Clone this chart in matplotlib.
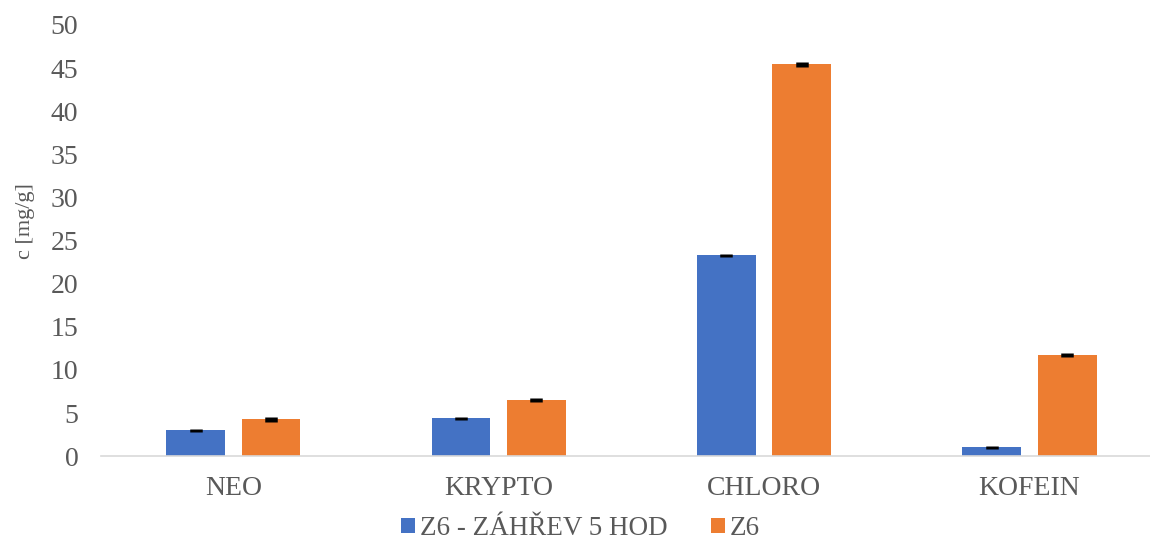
import matplotlib
matplotlib.use("Agg")
import matplotlib.pyplot as plt
import numpy as np

categories = ["NEO", "KRYPTO", "CHLORO", "KOFEIN"]
series_names = ["Z6 - ZÁHŘEV 5 HOD", "Z6"]
heated = [3.0, 4.4, 23.3, 1.05]
plain = [4.25, 6.5, 45.45, 11.75]
heated_err = [0.18, 0.18, 0.15, 0.18]
plain_err = [0.3, 0.25, 0.3, 0.25]
yticks = [0, 5, 10, 15, 20, 25, 30, 35, 40, 45, 50]

blue = "#4472C4"
orange = "#ED7D31"
grey = "#595959"

plt.rcParams["font.family"] = ["Liberation Serif", "DejaVu Serif"]

fig = plt.figure(figsize=(11.5, 5.43), dpi=100)
ax = fig.add_axes([0.0875, 0.160, 0.923, 0.794])

x = np.arange(len(categories))
w = 0.222
off = 0.142
ax.bar(x - off, heated, w, color=blue, label=series_names[0], zorder=2)
ax.bar(x + off, plain, w, color=orange, label=series_names[1], zorder=2)
ax.errorbar(x - off, heated, yerr=heated_err, fmt="none", ecolor="black",
            elinewidth=9, capsize=0, zorder=3)
ax.errorbar(x + off, plain, yerr=plain_err, fmt="none", ecolor="black",
            elinewidth=9, capsize=0, zorder=3)

ax.set_xlim(-0.5, len(categories) - 0.5)
ax.set_ylim(0, 50)
ax.set_yticks(yticks)
ax.set_xticks(x)
ax.set_xticklabels(categories)
ax.tick_params(axis="both", length=0, labelsize=20, colors=grey)
ax.tick_params(axis="y", pad=16)
ax.tick_params(axis="x", pad=14)

for s in ["top", "right", "left"]:
    ax.spines[s].set_visible(False)
ax.spines["bottom"].set_color("#D9D9D9")
ax.spines["bottom"].set_linewidth(1.2)

fig.text(0.022, 0.593, "c [mg/g]", rotation=90, ha="center", va="center",
         fontsize=16, color=grey)

fig.legend(loc="center", bbox_to_anchor=(0.505, 0.026), ncol=2, frameon=False,
           fontsize=19.5, labelcolor=grey, handlelength=0.5, handleheight=0.5,
           handletextpad=0.2, columnspacing=1.6, borderpad=0)

fig.savefig("out.png", dpi=100)
